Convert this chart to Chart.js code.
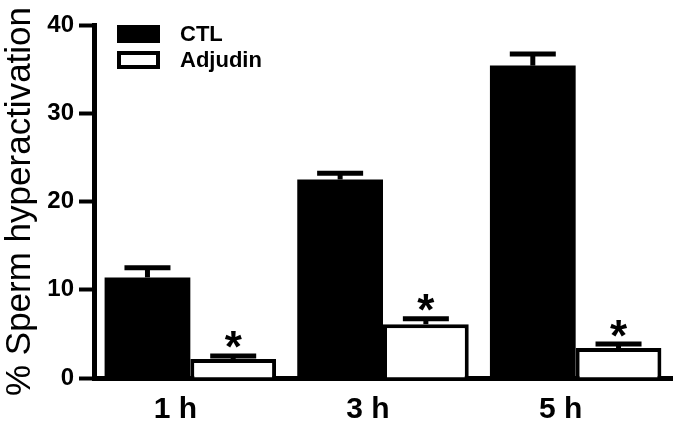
<!DOCTYPE html>
<html>
<head>
<meta charset="utf-8">
<script src="https://cdn.jsdelivr.net/npm/chart.js@4"></script>
<style>
  html, body { margin: 0; padding: 0; background: #fff; }
  #wrap { width: 674px; height: 424px; }
</style>
</head>
<body>
<div id="wrap"><canvas id="myChart" width="674" height="424"></canvas></div>
<script>
var categories = ['1 h', '3 h', '5 h'];
var ctlValues = [11.4, 22.5, 35.4];
var ctlErrors = [1.1, 0.7, 1.3];
var adjValues = [2.15, 6.1, 3.4];
var adjErrors = [0.35, 0.6, 0.45];
var yTicks = [0, 10, 20, 30, 40];

// error bars + asterisks, drawn from the bar elements and y scale
var errorBars = {
  id: 'errorBars',
  afterDatasetsDraw: function (chart) {
    var c = chart.ctx;
    var y = chart.scales.y;
    c.save();
    c.strokeStyle = '#000';
    chart.data.datasets.forEach(function (ds, i) {
      var meta = chart.getDatasetMeta(i);
      meta.data.forEach(function (bar, j) {
        var top = y.getPixelForValue(ds.data[j] + ds.errors[j]);
        c.lineWidth = 5;
        c.beginPath();
        c.moveTo(bar.x, bar.y);
        c.lineTo(bar.x, top);
        c.stroke();
        c.beginPath();
        c.moveTo(bar.x - 23, top);
        c.lineTo(bar.x + 23, top);
        c.stroke();
        if (ds.star) {
          c.font = 'bold 44px "Liberation Sans", Arial, sans-serif';
          c.textAlign = 'center';
          c.textBaseline = 'alphabetic';
          c.fillStyle = '#000';
          var m = c.measureText('*');
          var off = (m.actualBoundingBoxAscent - m.actualBoundingBoxDescent) / 2;
          c.fillText('*', bar.x, top - 16 + off);
        }
      });
    });
    c.restore();
  }
};

// legend in the upper left corner of the plot
var boxLegend = {
  id: 'boxLegend',
  afterDraw: function (chart) {
    var c = chart.ctx;
    c.save();
    c.font = 'bold 22px "Liberation Sans", Arial, sans-serif';
    c.textBaseline = 'middle';
    c.textAlign = 'left';
    chart.data.datasets.forEach(function (ds, i) {
      var top = 25 + i * 26;
      c.fillStyle = ds.backgroundColor;
      c.fillRect(117, top, 43, 18);
      c.lineWidth = 4;
      c.strokeStyle = '#000';
      c.strokeRect(119, top + 2, 39, 14);
      c.fillStyle = '#000';
      c.fillText(ds.label, 180, top + 10);
    });
    c.restore();
  }
};

var ctx = document.getElementById('myChart').getContext('2d');
var myChart = new Chart(ctx, {
  type: 'bar',
  data: {
    labels: categories,
    datasets: [{
      label: 'CTL',
      data: ctlValues,
      errors: ctlErrors,
      star: false,
      backgroundColor: '#000',
      borderColor: '#000',
      borderWidth: 0
    }, {
      label: 'Adjudin',
      data: adjValues,
      errors: adjErrors,
      star: true,
      backgroundColor: '#fff',
      borderColor: '#000',
      borderWidth: 4
    }]
  },
  options: {
    responsive: false,
    animation: false,
    layout: { padding: { left: 0, right: 2, top: 25, bottom: 0 } },
    datasets: { bar: { barPercentage: 1, categoryPercentage: 0.89 } },
    plugins: {
      legend: { display: false },
      tooltip: { enabled: false }
    },
    scales: {
      x: {
        grid: { drawOnChartArea: false, drawTicks: false },
        border: { display: true, color: '#000', width: 5 },
        ticks: {
          color: '#000',
          padding: 14,
          labelOffset: -15,
          font: { family: '"Liberation Sans", Arial, sans-serif', size: 30, weight: 'bold' }
        },
        afterFit: function (s) { s.height = 46; }
      },
      y: {
        min: 0,
        max: 40,
        afterBuildTicks: function (s) { s.ticks = yTicks.map(function (v) { return { value: v }; }); },
        grid: { drawOnChartArea: false, drawTicks: true, tickLength: 15, tickWidth: 4, tickColor: '#000' },
        border: { display: true, color: '#000', width: 5 },
        ticks: {
          color: '#000',
          padding: 5,
          font: { family: '"Liberation Sans", Arial, sans-serif', size: 24, weight: 'bold' }
        },
        title: {
          display: true,
          text: '% Sperm hyperactivation',
          color: '#000',
          padding: { top: -1, bottom: 0 },
          font: { family: '"Liberation Sans", Arial, sans-serif', size: 35 }
        },
        afterFit: function (s) { s.width = 94; }
      }
    }
  },
  plugins: [errorBars, boxLegend]
});
</script>
</body>
</html>
